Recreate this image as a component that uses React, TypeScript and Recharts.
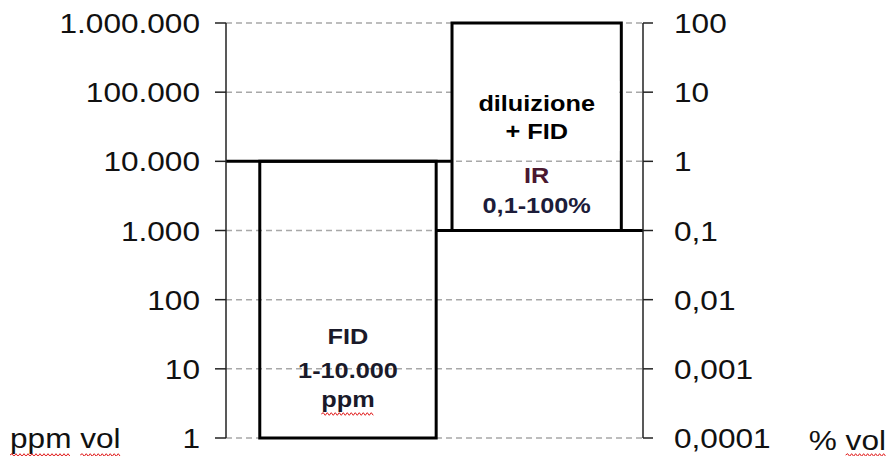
import React from 'react';
import { ComposedChart, XAxis, YAxis, CartesianGrid, ReferenceArea, Line } from 'recharts';

// ---- data ----
const ppmTicks = [1, 10, 100, 1000, 10000, 100000, 1000000];
const pctTicks = [0.0001, 0.001, 0.01, 0.1, 1, 10, 100];

// measuring ranges (x in abstract 0-100 units, y in ppm vol)
const rangeNames = ['FID', 'IR'];
const rangeXStart = [8.1, 54.2];
const rangeXEnd = [50.4, 94.8];
const rangeLowPpm = [1, 1000];
const rangeHighPpm = [10000, 1000000];
const fidLines = ['FID', '1-10.000', 'ppm'];
const irTopLines = ['diluizione', '+ FID'];
const irLines = ['IR', '0,1-100%'];

// limit steps
const upperStep = [
  { x: 0, ppm: 10000 },
  { x: 54.2, ppm: 10000 },
];
const lowerStep = [
  { x: 50.4, ppm: 1000 },
  { x: 100, ppm: 1000 },
];

// ---- formatting ----
const fmtPpm = (v: number) => String(Math.round(v)).replace(/\B(?=(\d{3})+(?!\d))/g, '.');
const fmtPct = (v: number) => {
  const digits = Math.max(0, -Math.round(Math.log10(v)));
  return v.toFixed(digits).replace('.', ',');
};

const FONT = '"Liberation Sans", Arial, sans-serif';
const TICK_FS = 27;
const SX = 1.17;
const BOX_FS = 22;
const BSX = 1.15;

// approximate Arial advance widths (em) for squiggle placement
const W_REG: Record<string, number> = { p: 0.556, m: 0.833, v: 0.5, o: 0.556, l: 0.222, ' ': 0.278, '%': 0.889 };
const W_BOLD: Record<string, number> = { p: 0.611, m: 0.889 };
const textW = (s: string, fs: number, bold = false) =>
  s.split('').reduce((a, c) => a + ((bold ? W_BOLD[c] : W_REG[c]) ?? 0.556), 0) * fs;

const squigglePath = (x0: number, x1: number, y: number) => {
  let d = `M${x0},${y}`;
  let up = true;
  for (let x = x0 + 2; x <= x1; x += 2) {
    d += ` L${x},${y + (up ? -1.3 : 1.3)}`;
    up = !up;
  }
  return d;
};

const Squiggle = ({ x0, x1, y }: { x0: number; x1: number; y: number }) => (
  <path d={squigglePath(x0, x1, y)} fill="none" stroke="#e01818" strokeWidth={1} />
);

const LeftTick = (props: any) => {
  const { x, y, payload } = props;
  return (
    <text
      transform={`translate(${x},${y + 10}) scale(${SX},1)`}
      textAnchor="end"
      fontFamily={FONT}
      fontSize={TICK_FS}
      fill="#111"
    >
      {fmtPpm(payload.value)}
    </text>
  );
};

const RightTick = (props: any) => {
  const { x, y, payload } = props;
  return (
    <text
      transform={`translate(${x},${y + 10}) scale(${SX},1)`}
      textAnchor="start"
      fontFamily={FONT}
      fontSize={TICK_FS}
      fill="#111"
    >
      {fmtPct(payload.value)}
    </text>
  );
};

const UnitLabel = (props: any) => {
  const { viewBox, side } = props;
  const vb = viewBox || {};
  const bottom = vb.y + vb.height;
  if (side === 'left') {
    const x0 = vb.x + 10;
    const base = bottom + 10;
    const wPpm = textW('ppm', TICK_FS) * SX;
    const wSp = textW(' ', TICK_FS) * SX;
    const wVol = textW('vol', TICK_FS) * SX;
    return (
      <g>
        <text
          transform={`translate(${x0},${base}) scale(${SX},1)`}
          textAnchor="start"
          fontFamily={FONT}
          fontSize={TICK_FS}
          fill="#111"
        >
          ppm vol
        </text>
        <Squiggle x0={x0} x1={x0 + wPpm} y={base + 7} />
        <Squiggle x0={x0 + wPpm + wSp} x1={x0 + wPpm + wSp + wVol} y={base + 7} />
      </g>
    );
  }
  const xe = vb.x + vb.width - 4;
  const base = bottom + 12;
  const wVol = textW('vol', TICK_FS) * SX;
  return (
    <g>
      <text
        transform={`translate(${xe},${base}) scale(${SX},1)`}
        textAnchor="end"
        fontFamily={FONT}
        fontSize={TICK_FS}
        fill="#111"
      >
        % vol
      </text>
      <Squiggle x0={xe - wVol} x1={xe} y={base + 5} />
    </g>
  );
};

const BoxText = ({ x, y, text, fill }: { x: number; y: number; text: string; fill: string }) => (
  <text
    transform={`translate(${x},${y}) scale(${BSX},1)`}
    textAnchor="middle"
    fontFamily={FONT}
    fontWeight="bold"
    fontSize={BOX_FS}
    fill={fill}
  >
    {text}
  </text>
);

const FidLabel = (props: any) => {
  const vb = props.viewBox || {};
  const cx = vb.x + vb.width / 2;
  const bottom = vb.y + vb.height;
  const offs = [94, 60, 31];
  const wPpm = textW('ppm', BOX_FS, true) * BSX;
  return (
    <g>
      {fidLines.map((t, i) => (
        <BoxText key={t} x={cx} y={bottom - offs[i]} text={t} fill="#1a1a2a" />
      ))}
      <Squiggle x0={cx - wPpm / 2} x1={cx + wPpm / 2} y={bottom - offs[2] + 7} />
    </g>
  );
};

const IrLabel = (props: any) => {
  const vb = props.viewBox || {};
  const cx = vb.x + vb.width / 2;
  const top = vb.y;
  const bottom = vb.y + vb.height;
  return (
    <g>
      <rect x={vb.x + 2} y={top + 58} width={vb.width - 4} height={70} fill="#fff" />
      {irTopLines.map((t, i) => (
        <BoxText key={t} x={cx} y={top + 88 + i * 28} text={t} fill="#000" />
      ))}
      {irLines.map((t, i) => (
        <BoxText key={t} x={cx} y={bottom - 48 + i * 30} text={t} fill={i === 0 ? '#4a1830' : '#1c1c3a'} />
      ))}
    </g>
  );
};

export default function App() {
  return (
    <div style={{ position: 'absolute', left: 0, top: 0, width: 890, height: 456, background: '#fff' }}>
      <ComposedChart width={890} height={456} margin={{ top: 23, right: 0, bottom: 18, left: 0 }}>
        <CartesianGrid
          yAxisId="left"
          vertical={false}
          horizontal
          stroke="#a8a8a8"
          strokeWidth={1.5}
          strokeDasharray="6 4"
        />
        <XAxis dataKey="x" type="number" domain={[0, 100]} hide height={0} allowDataOverflow />
        <YAxis
          yAxisId="left"
          orientation="left"
          width={226}
          scale="log"
          domain={[1, 1000000]}
          ticks={ppmTicks}
          allowDataOverflow
          interval={0}
          tick={<LeftTick />}
          tickSize={11}
          tickMargin={15}
          axisLine={{ stroke: '#222', strokeWidth: 1.5 }}
          tickLine={{ stroke: '#222', strokeWidth: 1.5 }}
          label={<UnitLabel side="left" />}
        />
        <YAxis
          yAxisId="right"
          orientation="right"
          width={247}
          scale="log"
          domain={[0.0001, 100]}
          ticks={pctTicks}
          allowDataOverflow
          interval={0}
          tick={<RightTick />}
          tickSize={10}
          tickMargin={21}
          axisLine={{ stroke: '#222', strokeWidth: 1.5 }}
          tickLine={{ stroke: '#222', strokeWidth: 1.5 }}
          label={<UnitLabel side="right" />}
        />
        {rangeNames.map((n, i) => (
          <ReferenceArea
            key={n}
            yAxisId="left"
            x1={rangeXStart[i]}
            x2={rangeXEnd[i]}
            y1={rangeLowPpm[i]}
            y2={rangeHighPpm[i]}
            ifOverflow="visible"
            fill="none"
            fillOpacity={0}
            stroke="#000"
            strokeWidth={3}
            label={i === 0 ? <FidLabel /> : <IrLabel />}
          />
        ))}
        <Line
          yAxisId="left"
          data={upperStep}
          dataKey="ppm"
          type="linear"
          stroke="#000"
          strokeWidth={3}
          dot={false}
          activeDot={false}
          isAnimationActive={false}
        />
        <Line
          yAxisId="left"
          data={lowerStep}
          dataKey="ppm"
          type="linear"
          stroke="#000"
          strokeWidth={3}
          dot={false}
          activeDot={false}
          isAnimationActive={false}
        />
      </ComposedChart>
    </div>
  );
}
